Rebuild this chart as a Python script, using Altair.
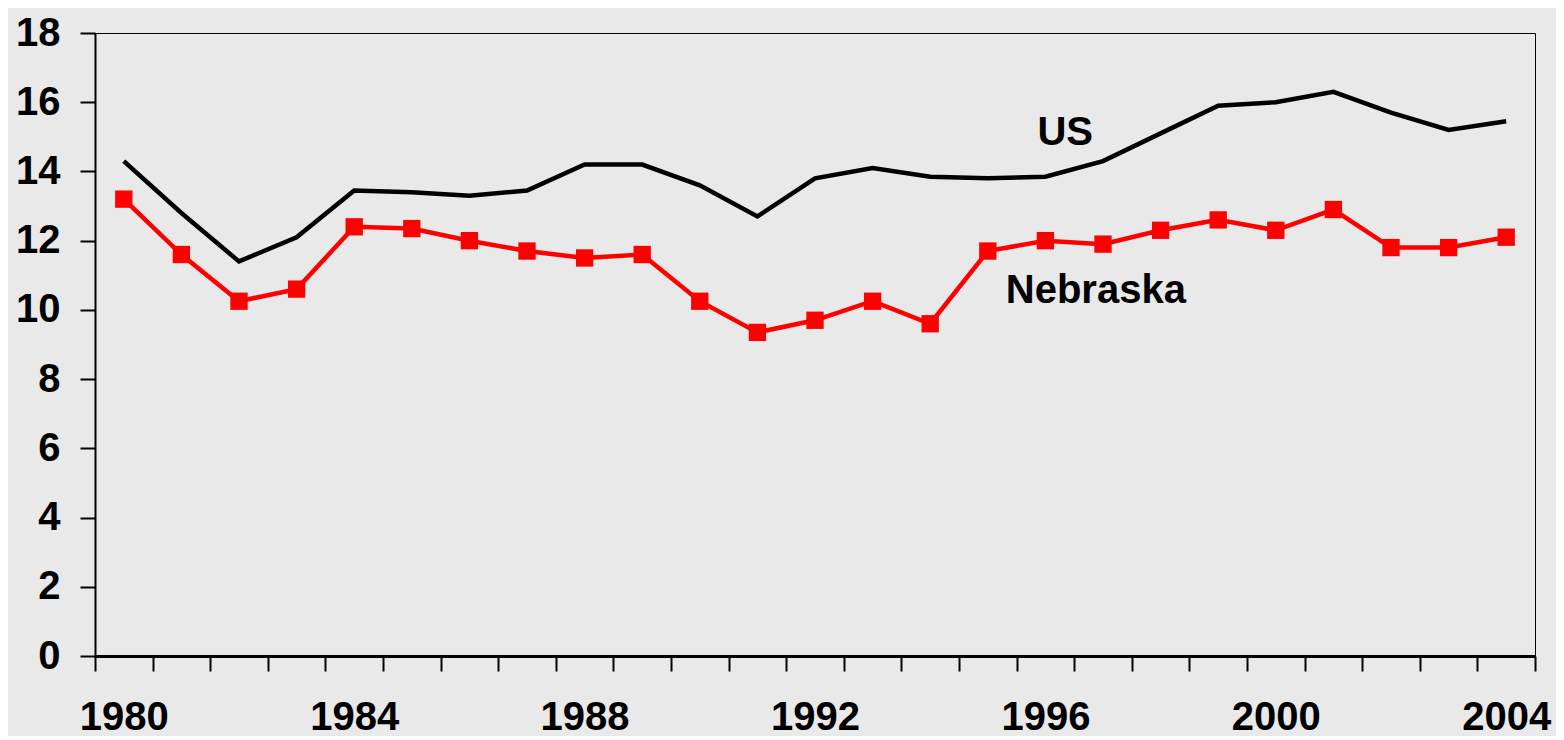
import altair as alt
import pandas as pd

years = list(range(1980, 2005))
us = [14.3, 12.8, 11.4, 12.1, 13.45, 13.4, 13.3, 13.45, 14.2, 14.2, 13.6, 12.7,
      13.8, 14.1, 13.85, 13.8, 13.85, 14.3, 15.1, 15.9, 16.0, 16.3, 15.7, 15.2, 15.45]
nebraska = [13.2, 11.6, 10.25, 10.6, 12.4, 12.35, 12.0, 11.7, 11.5, 11.6, 10.25, 9.35,
            9.7, 10.25, 9.6, 11.7, 12.0, 11.9, 12.3, 12.6, 12.3, 12.9, 11.8, 11.8, 12.1]
y_ticks = list(range(0, 19, 2))

label_names = ["US", "Nebraska"]
label_years = [1996, 1995]
label_values = [15.1, 10.55]

df = pd.DataFrame({
    "year": years * 2,
    "series": ["US"] * len(years) + ["Nebraska"] * len(years),
    "value": us + nebraska,
})
lab = pd.DataFrame({"text": label_names, "year": label_years, "value": label_values})

FONT = "Liberation Sans"

x_enc = alt.X(
    "year:O",
    scale=alt.Scale(type="band", paddingInner=0, paddingOuter=0),
    bandPosition=0.5,
    axis=alt.Axis(
        title=None,
        tickBand="extent",
        labelExpr="datum.value % 4 == 0 ? datum.label : ''",
        labelAngle=0,
        labelOverlap=False,
        labelFont=FONT,
        labelFontSize=40,
        labelFontWeight="bold",
        labelColor="black",
        labelPadding=26,
        tickSize=15,
        tickColor="black",
        tickWidth=2,
        domainColor="black",
        domainWidth=3,
        grid=False,
    ),
)
y_enc = alt.Y(
    "value:Q",
    scale=alt.Scale(domain=[0, 18], nice=False, zero=True),
    axis=alt.Axis(
        title=None,
        values=y_ticks,
        labelFont=FONT,
        labelFontSize=40,
        labelFontWeight="bold",
        labelColor="black",
        labelPadding=20,
        tickSize=15,
        tickColor="black",
        tickWidth=2,
        domainColor="black",
        domainWidth=2,
        grid=False,
    ),
)

base = alt.Chart(df)

us_line = base.transform_filter(alt.datum.series == "US").mark_line(
    color="black", strokeWidth=4.5
).encode(x=x_enc, y=y_enc)

ne_line = base.transform_filter(alt.datum.series == "Nebraska").mark_line(
    color="#FF0000", strokeWidth=4.5
).encode(x=x_enc, y=y_enc)

ne_pts = base.transform_filter(alt.datum.series == "Nebraska").mark_point(
    shape="square", size=300, filled=True, color="#FF0000", opacity=1
).encode(x=x_enc, y=y_enc)

lab_base = alt.Chart(lab)
us_text = lab_base.transform_filter(alt.datum.text == "US").mark_text(
    font=FONT, fontSize=40, fontWeight="bold", color="black",
    align="left", baseline="middle", dx=-8
).encode(x=alt.X("year:O", bandPosition=0.5), y="value:Q", text="text:N")

ne_text = lab_base.transform_filter(alt.datum.text == "Nebraska").mark_text(
    font=FONT, fontSize=40, fontWeight="bold", color="black",
    align="left", baseline="middle", dx=18
).encode(x=alt.X("year:O", bandPosition=0.5), y="value:Q", text="text:N")

chart = alt.layer(us_line, ne_line, ne_pts, us_text, ne_text).properties(
    width=1440,
    height=623,
    autosize=alt.AutoSizeParams(type="none"),
    padding={"left": 87, "top": 25, "right": 21, "bottom": 80},
    background="#E9E9E9",
).configure_view(
    stroke="black", strokeWidth=1, fill="#E9E9E9"
)

chart.save("out.html", embed_options={"renderer": "svg", "actions": False})
